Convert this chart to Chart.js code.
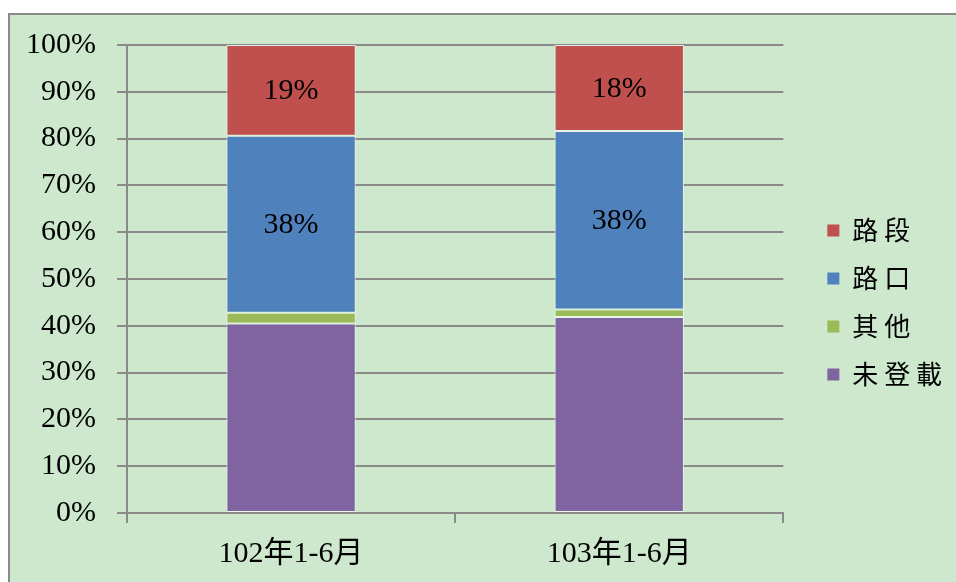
<!DOCTYPE html>
<html>
<head>
<meta charset="utf-8">
<script src="https://cdn.jsdelivr.net/npm/chart.js@4.4.1/dist/chart.umd.min.js"></script>
<style>
  html, body { margin: 0; padding: 0; background: #fff; overflow: hidden; }
  #frame {
    position: absolute; left: 8px; top: 13px; width: 1000px; height: 620px;
    background: #cde8cd; border-left: 2px solid #8a8a8a; border-top: 2px solid #8a8a8a;
  }
  #grafico { position: absolute; left: 0; top: 0; }
</style>
</head>
<body>
<div id="frame"></div>
<canvas id="grafico" width="956" height="582"></canvas>
<script>
// categorias e series (em %)
const periodos = ['102年1-6月', '103年1-6月'];
const naoRegistrado = [40.5, 41.9];   // 未登載
const outros = [2.3, 1.6];             // 其他
const cruzamento = [37.8, 38.1];       // 路口
const trecho = [19.4, 18.4];           // 路段
const ticksY = [0, 10, 20, 30, 40, 50, 60, 70, 80, 90, 100];

const fonteSerif = "'Liberation Serif', 'Noto Sans CJK TC', serif";
const corGrade = '#8a8a8a';

// escreve as porcentagens no meio das barras (só 路口 e 路段)
const rotulosBarras = {
  id: 'rotulosBarras',
  afterDatasetsDraw(chart) {
    const ctx = chart.ctx;
    ctx.save();
    ctx.font = '30px ' + fonteSerif;
    ctx.fillStyle = '#000';
    ctx.textAlign = 'center';
    ctx.textBaseline = 'middle';
    chart.data.datasets.forEach((ds, i) => {
      if (!ds.mostrarRotulo) return;
      chart.getDatasetMeta(i).data.forEach((el, j) => {
        const p = el.getCenterPoint();
        ctx.fillText(Math.round(ds.data[j]) + '%', p.x, p.y + 1);
      });
    });
    ctx.restore();
  }
};

const ctx = document.getElementById('grafico').getContext('2d');
const grafico = new Chart(ctx, {
  type: 'bar',
  data: {
    labels: periodos,
    datasets: [
      { label: '未登載', data: naoRegistrado, backgroundColor: '#8064a2' },
      { label: '其他', data: outros, backgroundColor: '#9bbb59' },
      { label: '路口', data: cruzamento, backgroundColor: '#4f81bd', mostrarRotulo: true },
      { label: '路段', data: trecho, backgroundColor: '#c0504d', mostrarRotulo: true }
    ].map(d => Object.assign(d, {
      borderColor: 'rgba(236,246,236,0.9)',
      borderWidth: 1,
      borderSkipped: false,
      categoryPercentage: 1,
      barPercentage: 0.394
    }))
  },
  options: {
    responsive: false,
    animation: false,
    layout: { padding: { left: 5, top: 45, right: 4, bottom: -3 } },
    plugins: {
      tooltip: { enabled: false },
      legend: {
        position: 'right',
        fullSize: false,
        reverse: true,
        title: { display: true, text: ' ', padding: { top: 20, bottom: 20 }, font: { size: 6 } },
        labels: {
          boxWidth: 12,
          boxHeight: 12,
          padding: 22,
          color: '#000',
          font: { family: "'Noto Sans CJK TC'", size: 26 },
          generateLabels(chart) {
            const itens = Chart.defaults.plugins.legend.labels.generateLabels(chart);
            itens.forEach(it => {
              it.text = it.text.split('').join(' ');
              it.lineWidth = 0;
            });
            return itens;
          }
        }
      }
    },
    scales: {
      x: {
        stacked: true,
        grid: {
          display: true,
          offset: true,
          drawOnChartArea: false,
          drawTicks: true,
          tickLength: 10,
          color: corGrade,
          lineWidth: 2
        },
        border: { display: true, color: corGrade, width: 2 },
        ticks: {
          color: '#000',
          padding: 16,
          font: { family: fonteSerif, size: 30, lineHeight: 1 }
        }
      },
      y: {
        stacked: true,
        min: ticksY[0],
        max: ticksY[ticksY.length - 1],
        afterBuildTicks(axis) {
          axis.ticks = ticksY.map(v => ({ value: v }));
        },
        grid: {
          color: corGrade,
          lineWidth: 2,
          tickLength: 10
        },
        border: { display: true, color: corGrade, width: 2 },
        ticks: {
          color: '#000',
          padding: 21,
          font: { family: fonteSerif, size: 30 },
          callback: v => v + '%'
        }
      },
      // eixo vazio só para abrir espaço entre o gráfico e a legenda
      espaco: {
        type: 'linear',
        position: 'right',
        grid: { display: false },
        border: { display: false },
        ticks: { display: false },
        afterFit(axis) { axis.width = 22; }
      }
    }
  },
  plugins: [rotulosBarras]
});
</script>
</body>
</html>
